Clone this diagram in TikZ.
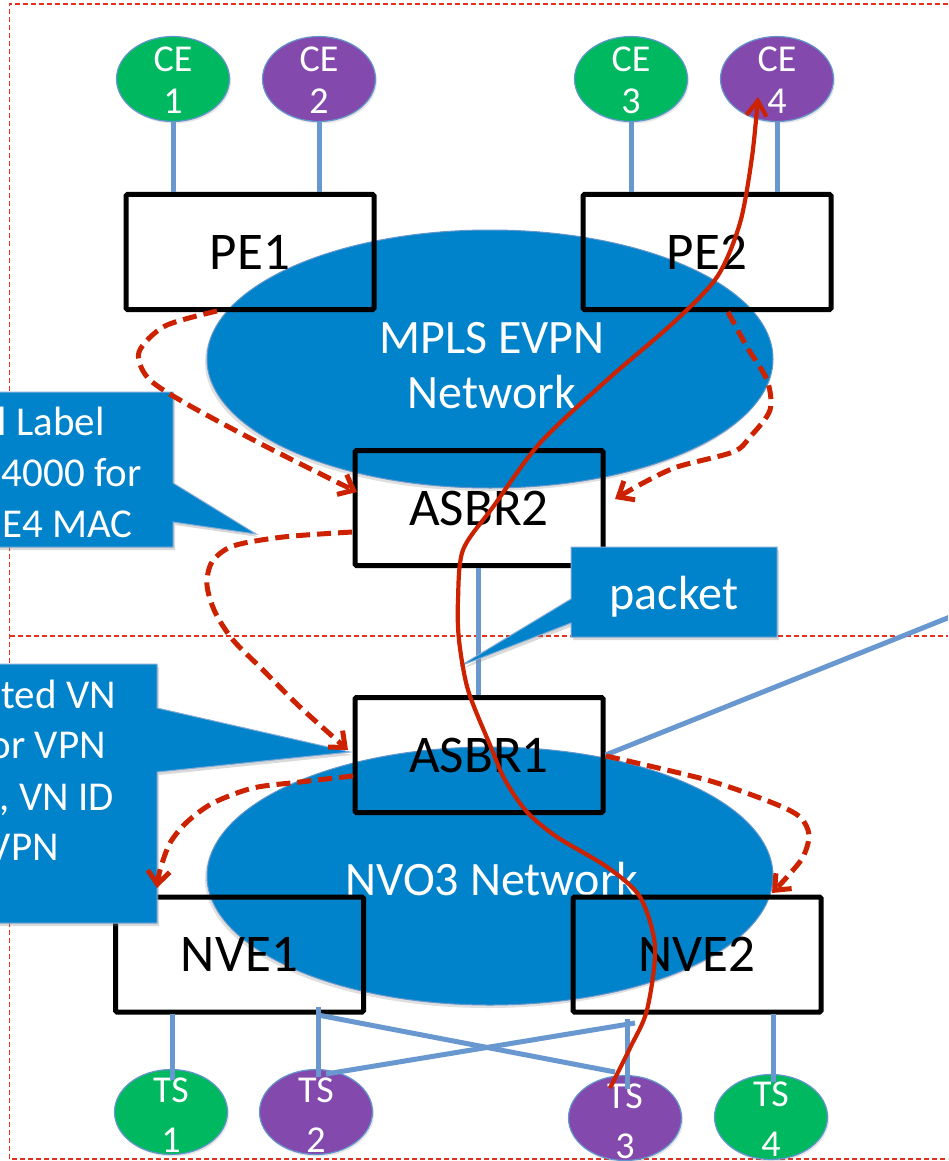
\documentclass[tikz,border=0pt]{standalone}
\usepackage{fontspec}
\setmainfont{Carlito}
\usetikzlibrary{shapes.geometric,arrows.meta,shadows}
\definecolor{netblue}{RGB}{0,131,202}
\definecolor{edgeblue}{RGB}{100,150,205}
\definecolor{linkblue}{RGB}{104,152,207}
\definecolor{cegreen}{RGB}{0,184,96}
\definecolor{cepurple}{RGB}{132,73,173}
\definecolor{flowred}{RGB}{204,34,0}
\definecolor{borderred}{RGB}{225,50,30}
\begin{document}
\begin{tikzpicture}[x=1pt,y=-1pt,
  frame/.style={draw=borderred, line width=1.3pt, dash pattern=on 5pt off 3pt},
  net/.style={ellipse, fill=netblue, draw=edgeblue, line width=1pt, minimum width=566pt, minimum height=258pt, inner sep=0pt,
    drop shadow={opacity=0.25, shadow xshift=-2pt, shadow yshift=-3pt}},
  netlabel/.style={text=white, align=center, font=\fontsize{48}{55}\selectfont, inner sep=0pt},
  circ/.style={ellipse, draw=edgeblue, line width=1.2pt, minimum width=113pt, minimum height=85pt, inner sep=0pt,
    drop shadow={opacity=0.2, shadow xshift=1.5pt, shadow yshift=-2pt}},
  cetext/.style={text=white, align=center, font=\fontsize{38}{42}\selectfont, inner sep=0pt},
  tstext/.style={text=white, align=center, font=\fontsize{38}{50}\selectfont, inner sep=0pt},
  link/.style={draw=linkblue, line width=5pt},
  boxn/.style={draw=black, line width=5pt, minimum width=248pt, minimum height=115pt, rounded corners=1.5pt, inner sep=0pt, font=\fontsize{53}{60}\selectfont},
  callout/.style={fill=netblue, draw=edgeblue!80!white, line width=1pt,
    drop shadow={opacity=0.3, shadow xshift=2pt, shadow yshift=-3pt}},
  ctext/.style={text=white, font=\fontsize{41}{50}\selectfont, inner sep=0pt, anchor=base east},
  flow/.style={draw=flowred, line width=5pt, dash pattern=on 14pt off 7pt, -{Straight Barb[length=13pt,width=22pt]}},
  pktline/.style={draw=flowred, line width=4.2pt, -{Straight Barb[length=15pt,width=20pt]}}
]
\useasboundingbox (0,0) rectangle (948,1161);
\clip (0,0) rectangle (948,1161);

% frames
\draw[frame] (948,4) -- (9.5,4) -- (9.5,1159) -- (948,1159);
\draw[frame] (9.5,636) -- (948,636);

% networks
\node[net] (mpls) at (490,359) {};
\node[netlabel] (mplst) at (492,366) {MPLS EVPN\\Network};
\node[net] (nvo3) at (490,876) {};
\node[netlabel] (nvo3t) at (492,879) {NVO3 Network};

% CE / TS circles
\node[circ, fill=cegreen] (ce1) at (173,79) {};
\node[circ, fill=cepurple] (ce2) at (319,79) {};
\node[circ, fill=cegreen] (ce3) at (631,79) {};
\node[circ, fill=cepurple] (ce4) at (777,79) {};
\node[cetext] (ce1t) at (173,80.5) {CE\\1};
\node[cetext] (ce2t) at (319,80.5) {CE\\2};
\node[cetext] (ce3t) at (631,80.5) {CE\\3};
\node[cetext] (ce4t) at (777,80.5) {CE\\4};

\node[circ, fill=cegreen] (ts1) at (171,1112) {};
\node[circ, fill=cepurple] (ts2) at (316,1112) {};
\node[circ, fill=cepurple] (ts3) at (625,1118) {};
\node[circ, fill=cegreen] (ts4) at (771,1117) {};
\node[tstext] (ts1t) at (171,1115) {TS\\1};
\node[tstext] (ts2t) at (316,1115) {TS\\2};
\node[tstext] (ts3t) at (625,1121) {TS\\3};
\node[tstext] (ts4t) at (771,1119) {TS\\4};

% boxes
\node[boxn] (pe1) at (250,252) {PE1};
\node[boxn] (pe2) at (707,252) {PE2};
\node[boxn] (asbr2) at (479,508) {ASBR2};
\node[boxn] (asbr1) at (479,755) {ASBR1};
\node[boxn] (nve1) at (239.5,954.5) {NVE1};
\node[boxn] (nve2) at (697,954.5) {NVE2};

% named link end points
\coordinate (asbrlink) at (478,568);
\coordinate (n1a) at (172,1014);
\coordinate (t1a) at (172,1080);
\coordinate (n1b) at (318,1007);
\coordinate (t2a) at (318,1077);
\coordinate (n1c) at (318,1015);
\coordinate (t3l) at (615,1072);
\coordinate (t2r) at (326,1074);
\coordinate (n2c) at (635,1023);
\coordinate (n2b) at (627,1019);
\coordinate (t3a) at (627,1089);
\coordinate (n2d) at (773,1014);
\coordinate (t4a) at (773,1082);
\coordinate (farpt) at (970,609);

% links
\draw[link] (ce1.south) -- (ce1.south |- pe1.north);
\draw[link] (ce2.south) -- (ce2.south |- pe1.north);
\draw[link] (ce3.south) -- (ce3.south |- pe2.north);
\draw[link] (ce4.south) -- (ce4.south |- pe2.north);
\draw[link] (asbrlink) -- (asbrlink |- asbr1.north);
\draw[link] (n1a) -- (t1a);
\draw[link] (n1b) -- (t2a);
\draw[link] (n1c) -- (t3l);
\draw[link] (t2r) -- (n2c);
\draw[link] (n2b) -- (t3a);
\draw[link] (n2d) -- (t4a);
\draw[link] (asbr1.east) -- (farpt);

% callouts
\filldraw[callout] (-250,392) -- (173,392) -- (173,483) -- (256,534) -- (173,522) -- (173,547) -- (-250,547) -- cycle;
\node[ctext] (c1a) at (105,435) {l Label};
\node[ctext] (c1b) at (142,486) {4000 for};
\node[ctext] (c1c) at (133,537) {E4 MAC};

\filldraw[callout] (-250,664) -- (157,664) -- (157,708) -- (350,752) -- (157,772) -- (157,923) -- (-250,923) -- cycle;
\node[ctext] (c2a) at (116,708) {ted VN};
\node[ctext] (c2b) at (106,758) {or VPN};
\node[ctext] (c2c) at (114,810) {, VN ID};
\node[ctext] (c2d) at (59,860) {VPN};

\filldraw[callout] (571,547) -- (777,547) -- (777,637) -- (571,637) -- (571,623) -- (460,666) -- (571,599) -- cycle;
\node[netlabel] (pkt) at (674,597) {packet};

% dashed control flows
\coordinate (f1s) at (217,311);
\coordinate (f1e) at (357,492);
\draw[flow] plot[smooth] coordinates {(f1s) (165,326) (139,352) (148,378) (185,403) (265,446) (f1e)};
\coordinate (f2s) at (728,312);
\coordinate (f2e) at (615,499);
\draw[flow] plot[smooth] coordinates {(f2s) (747,347) (767,380) (770,410) (750,437) (733,452) (677,467) (643,483) (f2e)};
\coordinate (f3s) at (352,532);
\coordinate (f3e) at (348,750);
\draw[flow] plot[smooth] coordinates {(f3s) (283,537) (233,546) (212,562) (207,585) (215,612) (233,640) (263,670) (300,707) (f3e)};
\coordinate (f4s) at (353,776);
\coordinate (f4e) at (157,888);
\draw[flow] plot[smooth] coordinates {(f4s) (300,782) (253,788) (213,803) (187,822) (170,843) (160,870) (f4e)};
\coordinate (f5s) at (606,756);
\coordinate (f5e) at (772,893);
\draw[flow] plot[smooth] coordinates {(f5s) (707,780) (773,803) (800,817) (809,835) (803,857) (787,877) (f5e)};

% packet path
\coordinate (ps) at (610,1088);
\coordinate (pe) at (758,97);
\draw[pktline] plot[smooth] coordinates {(ps) (630,1048) (647,1010) (655,947) (640,897) (607,867) (557,837) (527,812) (505,780) (490,745) (468,690) (459,640) (458,600) (463,550) (493,507) (540,443) (607,380) (673,323) (717,277) (740,223) (752,157) (pe)};
\end{tikzpicture}
\end{document}
